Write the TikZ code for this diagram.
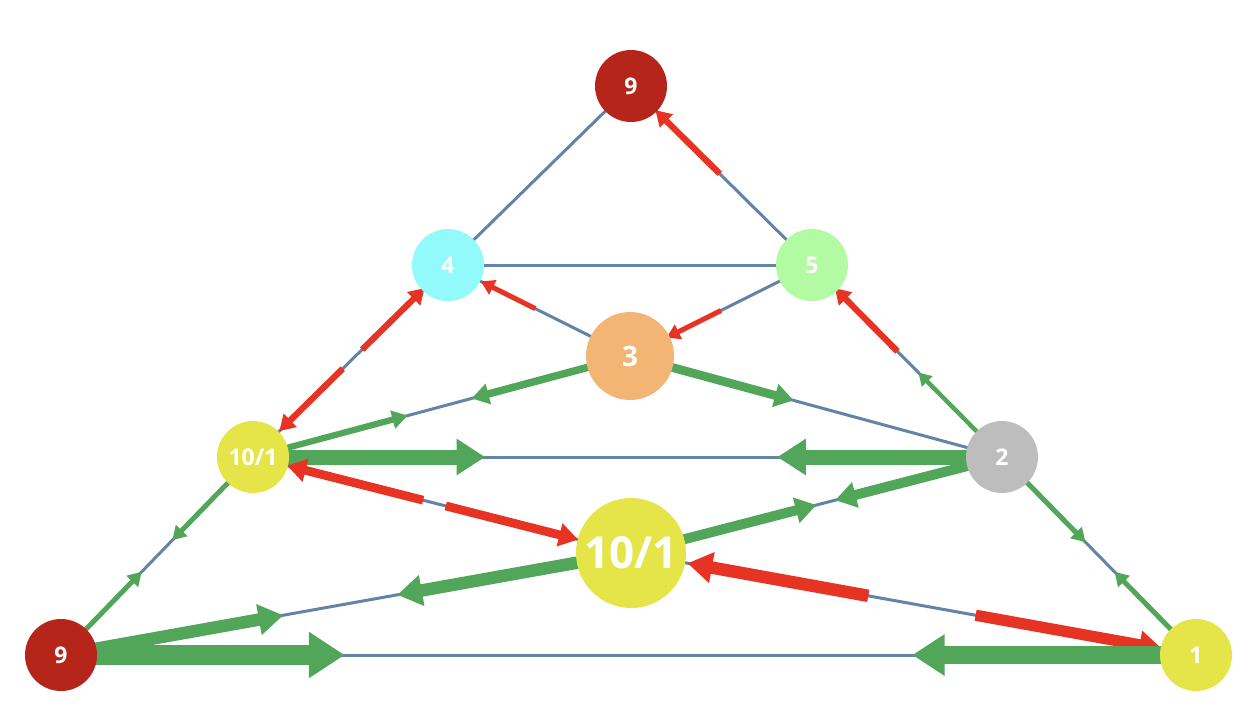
\documentclass[tikz,border=0pt]{standalone}
\usepackage{fontspec}
\setmainfont{Open Sans}
\usetikzlibrary{calc,arrows.meta}
\definecolor{base}{HTML}{6383A8}
\definecolor{rd}{HTML}{E63323}
\definecolor{gr}{HTML}{52A65A}
\definecolor{dred}{HTML}{B5251A}
\definecolor{cy}{HTML}{93FAFC}
\definecolor{lg}{HTML}{B3FBA3}
\definecolor{org}{HTML}{F2B574}
\definecolor{yl}{HTML}{E5E54A}
\definecolor{gy}{HTML}{BDBDBD}
\newcommand\flow[6]{%
  \pgfmathsetmacro\lw{1.25*#6}%
  \pgfmathsetmacro\fl{6+1.5*\lw}\pgfmathsetmacro\fw{6+1.9*\lw}%
  \draw[line width=\lw pt,color=#5,-{Triangle[length=\fl pt,width=\fw pt]}]
    ($(#1)!#3!(#2)$) -- ($(#1)!#4!(#2)$);}
\tikzset{nd/.style={circle,fill=#1,inner sep=0pt,minimum size=72pt,text=white,font=\bfseries\fontsize{23}{27}\selectfont},
 bl/.style={line width=3pt,color=base}}
\begin{document}
\begin{tikzpicture}[x=1pt,y=-1pt]
\useasboundingbox (0,0) rectangle (1260,716);
\coordinate (t9) at (631,86);
\coordinate (c4) at (448,265);
\coordinate (c5) at (812,265);
\coordinate (c3) at (630,356);
\coordinate (ca) at (253,457);
\coordinate (c2) at (1002,457);
\coordinate (cb) at (631,553);
\coordinate (b9) at (61,655);
\coordinate (c1) at (1196,655);
\foreach \a/\b in {t9/c4,t9/c5,c4/c5,c4/c3,c5/c3,c4/ca,c5/c2,c3/ca,c3/c2,ca/c2,ca/cb,c2/cb,ca/b9,b9/cb,cb/c1,b9/c1,c2/c1}
  \draw[bl] (\a) -- (\b);
\flow{c5}{t9}{0.51}{0.865}{rd}{5}
\flow{c3}{c4}{0.52}{0.82}{rd}{4}
\flow{c5}{c3}{0.5}{0.8}{rd}{4}
\flow{ca}{c4}{0.56}{0.88}{rd}{5}
\flow{c4}{ca}{0.54}{0.865}{rd}{5}
\flow{c2}{c5}{0.55}{0.88}{rd}{5}
\flow{c2}{c5}{0}{0.44}{gr}{3.5}
\flow{c3}{ca}{0}{0.42}{gr}{6}
\flow{ca}{c3}{0}{0.41}{gr}{5}
\flow{c3}{c2}{0}{0.44}{gr}{7}
\flow{ca}{c2}{0}{0.31}{gr}{12}
\flow{c2}{ca}{0}{0.30}{gr}{12}
\flow{ca}{cb}{0.51}{0.86}{rd}{7}
\flow{cb}{ca}{0.55}{0.91}{rd}{7}
\flow{c2}{cb}{0}{0.45}{gr}{8}
\flow{cb}{c2}{0}{0.50}{gr}{8}
\flow{ca}{b9}{0}{0.42}{gr}{4}
\flow{b9}{ca}{0}{0.42}{gr}{4}
\flow{b9}{cb}{0}{0.39}{gr}{10}
\flow{cb}{b9}{0}{0.41}{gr}{10}
\flow{c1}{cb}{0.58}{0.9}{rd}{10}
\flow{cb}{c1}{0.61}{0.94}{rd}{9}
\flow{b9}{c1}{0}{0.25}{gr}{16}
\flow{c1}{b9}{0}{0.25}{gr}{14}
\flow{c2}{c1}{0}{0.43}{gr}{4}
\flow{c1}{c2}{0}{0.42}{gr}{4}
\node[nd=dred] (n9t) at (t9) {9};
\node[nd=cy] (n4) at (c4) {4};
\node[nd=lg] (n5) at (c5) {5};
\node[nd=org,minimum size=88pt,font=\bfseries\fontsize{28}{32}\selectfont] (n3) at (c3) {3};
\node[nd=yl] (na) at (ca) {10/1};
\node[nd=gy] (n2) at (c2) {2};
\node[nd=yl,minimum size=110pt,font=\bfseries\fontsize{44}{50}\selectfont] (nb) at (cb) {10/1};
\node[nd=dred] (n9b) at (b9) {9};
\node[nd=yl] (n1) at (c1) {1};
\end{tikzpicture}
\end{document}
